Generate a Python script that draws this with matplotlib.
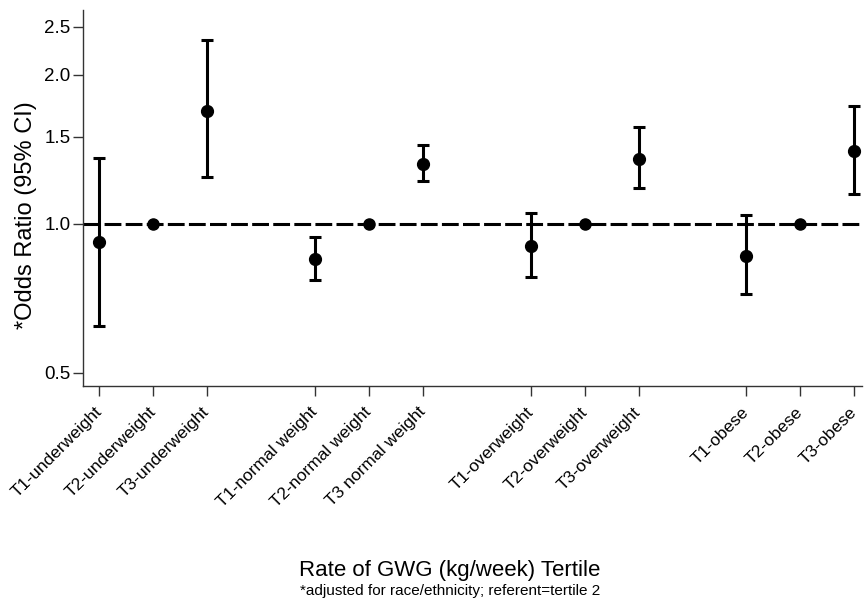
import numpy as np
import matplotlib
matplotlib.use('Agg')
import matplotlib.pyplot as plt
from matplotlib.ticker import FixedLocator, NullLocator, FixedFormatter

plt.rcParams['font.family'] = ['Liberation Sans', 'DejaVu Sans']

# tertile labels and slot positions (gap between BMI groups)
labels = ['T1-underweight', 'T2-underweight', 'T3-underweight',
          'T1-normal weight', 'T2-normal weight', 'T3 normal weight',
          'T1-overweight', 'T2-overweight', 'T3-overweight',
          'T1-obese', 'T2-obese', 'T3-obese']
pos = [1, 2, 3, 5, 6, 7, 9, 10, 11, 13, 14, 15]

# odds ratios and 95% CI
odds = [0.92, 1.0, 1.69, 0.85, 1.0, 1.32, 0.90, 1.0, 1.35, 0.86, 1.0, 1.40]
lower = [0.62, 1.0, 1.24, 0.77, 1.0, 1.22, 0.78, 1.0, 1.18, 0.72, 1.0, 1.15]
upper = [1.36, 1.0, 2.35, 0.94, 1.0, 1.44, 1.05, 1.0, 1.57, 1.04, 1.0, 1.73]

yticks = [0.5, 1.0, 1.5, 2.0, 2.5]

fig = plt.figure(figsize=(8.65, 6.02), dpi=100)
ax = fig.add_axes([0.096, 0.359, 0.901, 0.624])

ax.set_yscale('log')
ax.axhline(1.0, color='black', lw=2.2, dashes=(5.5, 1.4), zorder=1)

odds_a = np.array(odds)
err = np.vstack([odds_a - np.array(lower), np.array(upper) - odds_a])
has_ci = err.sum(axis=0) > 0
ax.errorbar(np.array(pos)[has_ci], odds_a[has_ci], yerr=err[:, has_ci], fmt='o',
            color='black', ms=8.5, elinewidth=2.2, capsize=4.5, capthick=2.2, zorder=3)
ax.plot(np.array(pos)[~has_ci], odds_a[~has_ci], 'o', color='black', ms=8, zorder=3)

ax.set_xlim(0.7, 15.15)
ax.set_ylim(0.47, 2.7)
ax.yaxis.set_major_locator(FixedLocator(yticks))
ax.yaxis.set_major_formatter(FixedFormatter(['%.1f' % t for t in yticks]))
ax.yaxis.set_minor_locator(NullLocator())
ax.set_xticks(pos)
ax.set_xticklabels(labels, rotation=45, ha='right', va='center', rotation_mode='anchor')

for s in ['top', 'right']:
    ax.spines[s].set_visible(False)
for s in ['left', 'bottom']:
    ax.spines[s].set_linewidth(1.0)
    ax.spines[s].set_color('#333333')
ax.tick_params(axis='both', length=7, width=1.0, color='#333333')
ax.tick_params(axis='x', labelsize=12.5, pad=10)
ax.tick_params(axis='y', labelsize=13.5, pad=2)

ax.set_ylabel('*Odds Ratio (95% CI)', fontsize=17)
ax.yaxis.set_label_coords(-0.059, 0.455)
fig.text(0.52, 0.053, 'Rate of GWG (kg/week) Tertile', ha='center', va='center', fontsize=16)
fig.text(0.52, 0.019, '*adjusted for race/ethnicity; referent=tertile 2', ha='center',
         va='center', fontsize=11)

fig.savefig('out.png', dpi=100)
